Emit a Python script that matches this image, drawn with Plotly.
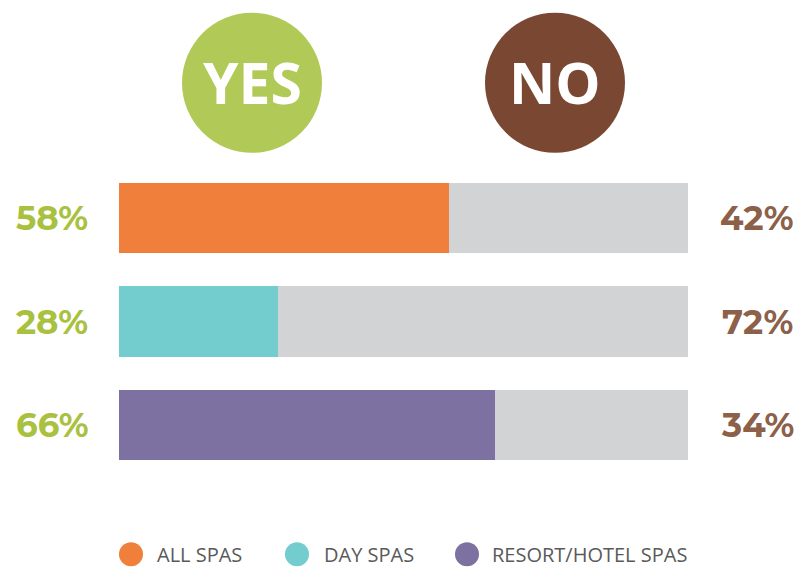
import plotly.graph_objects as go

categories = ["ALL SPAS", "DAY SPAS", "RESORT/HOTEL SPAS"]
yes_values = [58, 28, 66]
no_values = [42, 72, 34]
bar_colors = ["#F07F3C", "#73CCCE", "#7D71A1"]
header_labels = ["YES", "NO"]

W, H = 799, 568
L, R = 119, 688
T, B = 165.5, 477.5

fig = go.Figure()
fig.add_trace(go.Bar(
    y=categories, x=yes_values, orientation="h",
    marker=dict(color=bar_colors, line=dict(width=0)),
    width=0.68, hoverinfo="skip", showlegend=False,
))
fig.add_trace(go.Bar(
    y=categories, x=no_values, orientation="h",
    marker=dict(color="#D1D3D5", line=dict(width=0)),
    width=0.68, hoverinfo="skip", showlegend=False,
))

def py(p):
    return (B - p) / (B - T)

def px_(p):
    return (p - L) / (R - L)

shapes = []
annotations = []

# header circles
header_colors = ["#B1C957", "#7A4732"]
header_x = [px_(252), px_(555)]
for lab, col, hx in zip(header_labels, header_colors, header_x):
    shapes.append(dict(type="circle", xref="paper", yref="paper",
                       xsizemode="pixel", ysizemode="pixel",
                       xanchor=hx, yanchor=py(82),
                       x0=-70, x1=70, y0=-70, y1=70,
                       fillcolor=col, line=dict(width=0), layer="above"))
    annotations.append(dict(x=hx, y=py(81), xref="paper", yref="paper",
                            text="<b>%s</b>" % lab, showarrow=False,
                            font=dict(family="Open Sans", size=57, color="white"),
                            xanchor="center", yanchor="middle"))

# side percentages
for cat, yv, nv in zip(categories, yes_values, no_values):
    annotations.append(dict(x=px_(52), y=cat, xref="paper", yref="y",
                            text="<b>%d%%</b>" % yv, showarrow=False,
                            font=dict(family="Montserrat, Open Sans", size=34, color="#A8C13F"),
                            xanchor="center", yanchor="middle"))
    annotations.append(dict(x=px_(757), y=cat, xref="paper", yref="y",
                            text="<b>%d%%</b>" % nv, showarrow=False,
                            font=dict(family="Montserrat, Open Sans", size=34, color="#8C6049"),
                            xanchor="center", yanchor="middle"))

# custom legend
leg_x = [131, 297, 467]
leg_tx = [155, 322, 490]
for cat, col, lx, tx in zip(categories, bar_colors, leg_x, leg_tx):
    shapes.append(dict(type="circle", xref="paper", yref="paper",
                       xsizemode="pixel", ysizemode="pixel",
                       xanchor=px_(lx), yanchor=py(555),
                       x0=-12, x1=12, y0=-12, y1=12,
                       fillcolor=col, line=dict(width=0), layer="above"))
    annotations.append(dict(x=px_(tx), y=py(555), xref="paper", yref="paper",
                            text=cat, showarrow=False,
                            font=dict(family="Open Sans", size=20, color="#5A5A5A"),
                            xanchor="left", yanchor="middle"))

fig.update_layout(
    width=W, height=H,
    margin=dict(l=L, r=W - R, t=T, b=H - B, pad=0),
    barmode="stack",
    paper_bgcolor="white", plot_bgcolor="white",
    xaxis=dict(range=[0, 100], visible=False, fixedrange=True),
    yaxis=dict(range=[2.5, -0.5], visible=False, fixedrange=True,
               categoryorder="array", categoryarray=categories),
    shapes=shapes, annotations=annotations,
    showlegend=False,
)

fig.write_html("out.html", config={"displayModeBar": False})
